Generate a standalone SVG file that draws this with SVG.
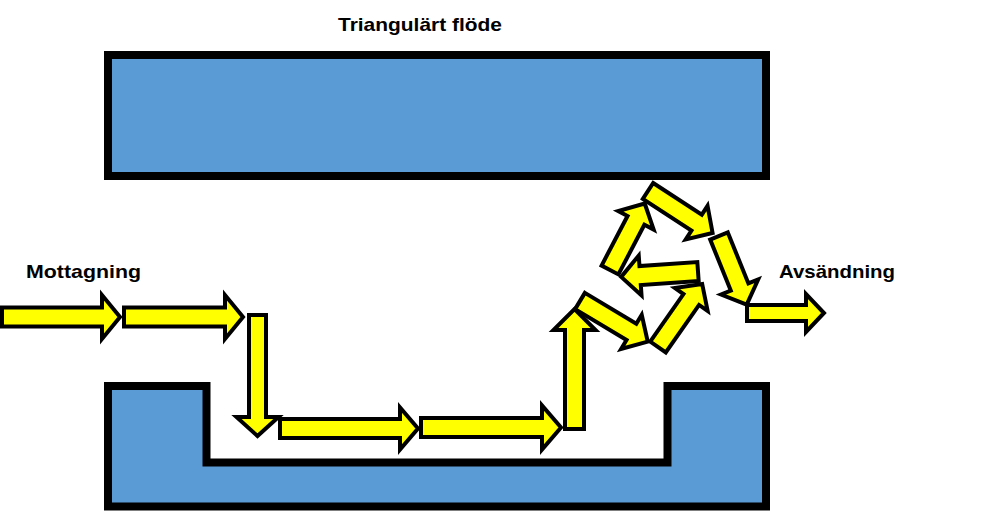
<svg xmlns="http://www.w3.org/2000/svg" width="985" height="511" viewBox="0 0 985 511">
<style>
.wall{fill:#5B9BD5;stroke:#000;stroke-width:8;stroke-linejoin:miter}
.arr{fill:#FFFF00;stroke:#000;stroke-width:4;stroke-linejoin:miter;stroke-miterlimit:10}
.lbl{font-family:"Liberation Sans",Arial,sans-serif;font-weight:bold;font-size:19px;fill:#000}
</style>
<rect width="985" height="511" fill="#fff"/>
<g id="top-wall"><rect class="wall" x="108" y="55" width="658" height="121"/></g>
<g id="bottom-wall"><path class="wall" d="M108,386H206.5V462.5H667.5V386H766V506.5H108Z"/></g>
<g id="title"><text class="lbl" x="338" y="31" textLength="164" lengthAdjust="spacingAndGlyphs">Triangulärt flöde</text></g>
<g id="label-in"><text class="lbl" x="26" y="278" textLength="115" lengthAdjust="spacingAndGlyphs">Mottagning</text></g>
<g id="label-out"><text class="lbl" x="779" y="278" textLength="116" lengthAdjust="spacingAndGlyphs">Avsändning</text></g>
<g id="connectors">
<path class="arr" transform="translate(2,317)" d="M0,-9.5H100V-22L118,0L100,22V9.5H0Z"/>
<path class="arr" transform="translate(124,317)" d="M0,-9.5H101V-22L119,0L101,22V9.5H0Z"/>
<path class="arr" transform="translate(257.5,315) rotate(90)" d="M0,-8.5H102V-21L121,0L102,21V8.5H0Z"/>
<path class="arr" transform="translate(280,428.5)" d="M0,-9.5H120V-21L138,0L120,21V9.5H0Z"/>
<path class="arr" transform="translate(421,427.5)" d="M0,-9.5H121V-22L140,0L121,22V9.5H0Z"/>
<path class="arr" transform="translate(574.5,429) rotate(-90)" d="M0,-9.5H99V-21L120,0L99,21V9.5H0Z"/>
<path class="arr" transform="translate(580,301) rotate(31)" d="M0,-9.5H60V-20L79,0L60,20V9.5H0Z"/>
<path class="arr" transform="translate(658,347) rotate(-55)" d="M0,-9.5H58V-20L77,0L58,20V9.5H0Z"/>
<path class="arr" transform="translate(698,271.5) rotate(176)" d="M0,-9.5H58V-20L77,0L58,20V9.5H0Z"/>
<path class="arr" transform="translate(610,270) rotate(-62.4)" d="M0,-9.5H56V-20L75,0L56,20V9.5H0Z"/>
<path class="arr" transform="translate(648,191) rotate(33)" d="M0,-9.5H58V-20L77,0L58,20V9.5H0Z"/>
<path class="arr" transform="translate(719,236) rotate(68)" d="M0,-9.5H55V-20L74,0L55,20V9.5H0Z"/>
<path class="arr" transform="translate(747,313)" d="M0,-8H59V-19L77,0L59,19V8H0Z"/>
</g>
</svg>
